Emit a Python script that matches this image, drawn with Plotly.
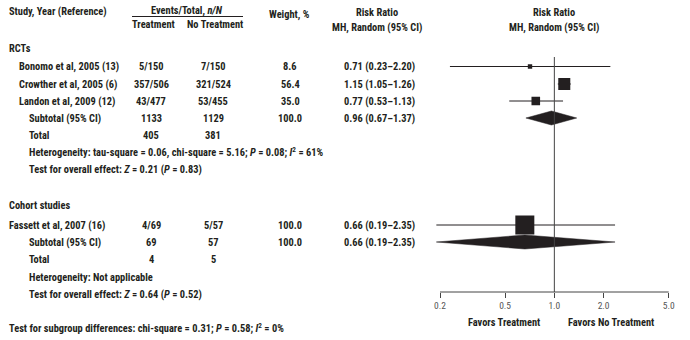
import math
import plotly.graph_objects as go

# ---------------- data ----------------
study_names = ["Bonomo et al, 2005 (13)", "Crowther et al, 2005 (6)",
               "Landon et al, 2009 (12)", "Fassett et al, 2007 (16)"]
study_group = [0, 0, 0, 1]
treat_events = [5, 357, 43, 4]
treat_total = [150, 506, 477, 69]
ctrl_events = [7, 321, 53, 5]
ctrl_total = [150, 524, 455, 57]
weights = [8.6, 56.4, 35.0, 100.0]
rr = [0.71, 1.15, 0.77, 0.66]
rr_lo = [0.23, 1.05, 0.53, 0.19]
rr_hi = [2.20, 1.26, 1.13, 2.35]

group_names = ["RCTs", "Cohort studies"]
sub_treat_total = [1133, 69]
sub_ctrl_total = [1129, 57]
sub_weight = [100.0, 100.0]
sub_rr = [0.96, 0.66]
sub_lo = [0.67, 0.19]
sub_hi = [1.37, 2.35]
tot_treat_events = [405, 4]
tot_ctrl_events = [381, 5]
heterogeneity = ["Heterogeneity: tau-square = 0.06, chi-square = 5.16; <i>P</i> = 0.08; <i>I</i><sup>2</sup> = 61%",
                 "Heterogeneity: Not applicable"]
overall = ["Test for overall effect: <i>Z</i> = 0.21 (<i>P</i> = 0.83)",
           "Test for overall effect: <i>Z</i> = 0.64 (<i>P</i> = 0.52)"]
subgroup_test = "Test for subgroup differences: chi-square = 0.31; <i>P</i> = 0.58; <i>I</i><sup>2</sup> = 0%"

tick_vals = [0.2, 0.5, 1.0, 2.0, 5.0]
tick_text = ["0.2", "0.5", "1.0", "2.0", "5.0"]
favors = ["Favors Treatment", "Favors No Treatment"]

# ---------------- layout helpers ----------------
W, H = 690, 340
INK = "#231f20"
FONT = "Liberation Sans Narrow, Roboto Condensed, Liberation Sans, Arial, sans-serif"
FS = 10.4

study_rows = [66.5, 84, 101, 225]
group_rows = [48, 205]
sub_rows = [118, 242]
tot_rows = [135, 259.5]
het_rows = [152, 277]
ovr_rows = [169, 294]
subgroup_row = 328

X_NAME0, X_NAME1, X_NAME2 = 7, 17, 27
X_T, X_C, X_W, X_RR = 151, 213, 290, 342

fig = go.Figure()
ann = []


def txt(x, y, s, anchor="left", size=FS, color=INK, weight="bold"):
    ann.append(dict(x=x / W, y=y, xref="paper", yref="y", text=s, showarrow=False,
                    xanchor=anchor, yanchor="middle",
                    font=dict(size=size, color=color, family=FONT, weight=weight)))


def fmt_rr(e, l, h):
    return f"{e:.2f} ({l:.2f}\u2013{h:.2f})"


# headers
txt(X_NAME0, 11, "Study, Year (Reference)")
txt(187, 10, "Events/Total, <i>n/N</i>", "center")
txt(153, 24, "Treatment", "center")
txt(215, 24, "No Treatment", "center")
txt(289, 14, "Weight, %", "center")
txt(377, 12, "Risk Ratio", "center")
txt(377, 27, "MH, Random (95% CI)", "center")
txt(554, 12, "Risk Ratio", "center")
txt(554, 27, "MH, Random (95% CI)", "center")

for g in range(2):
    txt(X_NAME0, group_rows[g], group_names[g])
    txt(X_NAME2, sub_rows[g], "Subtotal (95% CI)")
    txt(X_T, sub_rows[g], str(sub_treat_total[g]), "center")
    txt(X_C, sub_rows[g], str(sub_ctrl_total[g]), "center")
    txt(X_W, sub_rows[g], f"{sub_weight[g]:.1f}", "center")
    txt(X_RR, sub_rows[g], fmt_rr(sub_rr[g], sub_lo[g], sub_hi[g]))
    txt(X_NAME2, tot_rows[g], "Total")
    txt(X_T, tot_rows[g], str(tot_treat_events[g]), "center")
    txt(X_C, tot_rows[g], str(tot_ctrl_events[g]), "center")
    txt(X_NAME2, het_rows[g], heterogeneity[g])
    txt(X_NAME2, ovr_rows[g], overall[g])

for i, name in enumerate(study_names):
    y = study_rows[i]
    txt(X_NAME1 if study_group[i] == 0 else X_NAME0, y, name)
    txt(X_T, y, f"{treat_events[i]}/{treat_total[i]}", "center")
    txt(X_C, y, f"{ctrl_events[i]}/{ctrl_total[i]}", "center")
    txt(X_W, y, f"{weights[i]:.1f}", "center")
    txt(X_RR, y, fmt_rr(rr[i], rr_lo[i], rr_hi[i]))

txt(X_NAME0, subgroup_row, subgroup_test)
txt(504, 322.5, favors[0], "center")
txt(611, 322.5, favors[1], "center")

# ---------------- forest marks ----------------
for i in range(len(rr)):
    y = study_rows[i]
    fig.add_trace(go.Scatter(x=[rr_lo[i], rr_hi[i]], y=[y, y], mode="lines",
                             line=dict(color=INK, width=1), hoverinfo="skip", showlegend=False))
fig.add_trace(go.Scatter(x=rr, y=study_rows, mode="markers",
                         marker=dict(symbol="square", color=INK, opacity=1,
                                     size=[3 + 0.16 * w for w in weights], line=dict(width=0)),
                         showlegend=False))
DH = 7
for g in range(2):
    y = sub_rows[g]
    fig.add_trace(go.Scatter(x=[sub_lo[g], sub_rr[g], sub_hi[g], sub_rr[g], sub_lo[g]],
                             y=[y, y - DH, y, y + DH, y], mode="lines", fill="toself",
                             fillcolor=INK, line=dict(color=INK, width=0.5),
                             hoverinfo="skip", showlegend=False))

AXIS_Y = 292
shapes = [
    dict(type="line", xref="x", yref="y", x0=1, x1=1, y0=57, y1=AXIS_Y, line=dict(color="#444", width=1)),
    dict(type="line", xref="x", yref="y", x0=tick_vals[0], x1=tick_vals[-1], y0=AXIS_Y, y1=AXIS_Y,
         line=dict(color="#444", width=1)),
    dict(type="line", xref="paper", yref="y", x0=132 / W, x1=243 / W, y0=16.5, y1=16.5,
         line=dict(color=INK, width=1)),
]

px_per_dec = (668.7 - 440) / (math.log10(5) - math.log10(0.2))
x_at_one = 440 + px_per_dec * (0 - math.log10(0.2))
r0, r1 = -0.85, 0.8
d0 = (x_at_one + r0 * px_per_dec) / W
d1 = (x_at_one + r1 * px_per_dec) / W

fig.update_layout(
    width=W, height=H, margin=dict(l=0, r=0, t=0, b=0),
    paper_bgcolor="white", plot_bgcolor="white",
    annotations=ann, shapes=shapes,
    xaxis=dict(type="log", range=[r0, r1], domain=[d0, d1], anchor="free", position=1 - AXIS_Y / H,
               showgrid=False, zeroline=False, showline=False, ticks="outside", ticklen=5,
               tickcolor="#444", tickvals=tick_vals, ticktext=tick_text,
               tickfont=dict(size=9.5, color="#555", family=FONT)),
    yaxis=dict(range=[H, 0], domain=[0, 1], visible=False, showgrid=False, zeroline=False),
)

fig.write_html("out.html")
